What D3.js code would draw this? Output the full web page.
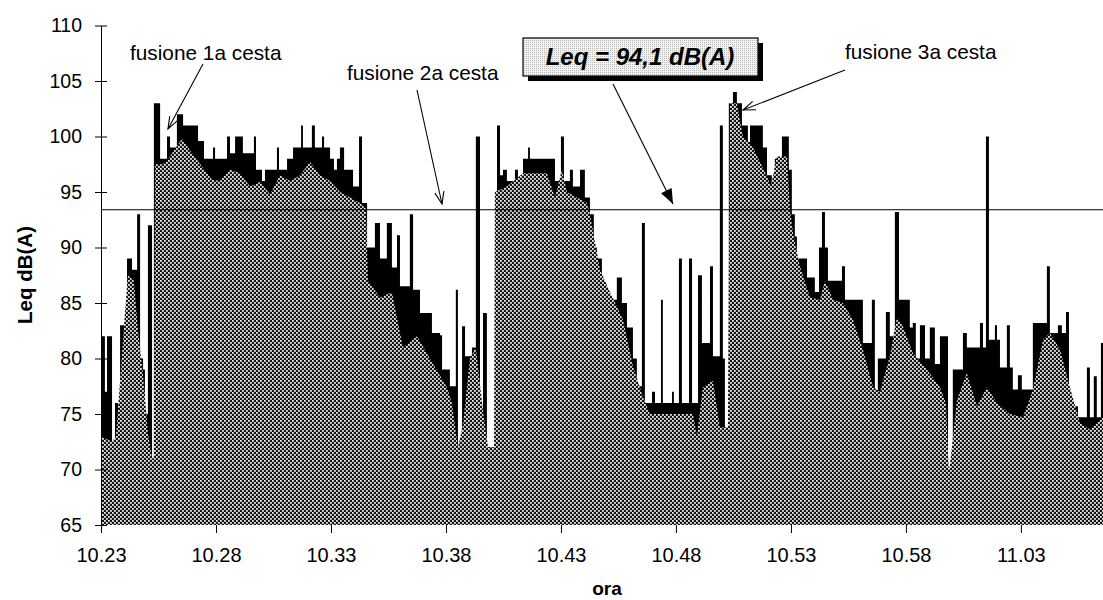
<!DOCTYPE html>
<html><head><meta charset="utf-8">
<script src="https://cdn.jsdelivr.net/npm/d3@7"></script>
<style>
body{margin:0;background:#fff;}
svg{display:block;font-family:"Liberation Sans",Arial,sans-serif;}
</style></head><body>
<svg id="chart" width="1103" height="600"></svg>
<script>
// x tick labels (clock time) and their positions in minutes after 10.23
const timeLabels = ["10.23","10.28","10.33","10.38","10.43","10.48","10.53","10.58","11.03"];
const tickMinutes = [0,5,10,15,20,25,30,35,40];
const yTicks = [65,70,75,80,85,90,95,100,105,110];

// upper (black) series: minutes after 10.23 and level dB(A)
const maxTime = [
 0,0.17,0.26,0.48,0.61,0.74,0.83,1.13,1.35,1.57,
 1.70,1.83,1.91,2.04,2.22,2.30,2.57,2.87,3.00,3.30,
 3.57,4.22,4.48,4.87,4.96,5.48,5.61,5.83,6.17,6.65,
 6.74,7.00,7.13,7.65,7.74,8.09,8.35,8.70,8.78,9.17,
 9.30,9.61,9.70,9.96,10.13,10.26,10.39,10.57,10.96,11.22,
 11.35,11.57,11.91,12.13,12.43,12.65,12.87,13.00,13.43,13.57,
 13.87,14.39,14.74,14.83,15.17,15.43,15.52,15.70,15.83,16.13,
 16.30,16.48,16.61,16.78,17.13,17.22,17.35,17.48,17.65,18.00,
 18.13,18.35,18.57,18.65,19.74,20.00,20.13,20.39,20.52,20.83,
 21.04,21.26,21.43,21.57,21.78,22.13,22.43,22.65,22.87,23.13,
 23.30,23.52,23.65,23.96,24.09,24.35,24.43,24.83,24.91,25.13,
 25.26,25.57,25.70,25.96,26.13,26.48,26.61,26.91,27.04,27.13,
 27.30,27.48,27.65,27.87,28.13,28.22,28.78,28.96,29.17,29.30,
 29.61,29.91,30.04,30.17,30.26,30.70,31.04,31.22,31.35,31.48,
 31.61,32.22,32.35,33.13,33.52,33.65,33.78,34.13,34.30,34.52,
 34.70,35.17,35.30,35.43,35.61,35.83,36.04,36.26,36.48,36.83,
 37.04,37.48,37.65,38.22,38.35,38.48,38.61,38.87,38.96,39.09,
 39.39,39.52,39.65,39.87,40.04,40.52,41.13,41.26,41.61,41.78,
 41.96,42.09,42.48,42.87,43.00,43.17,43.30,43.48,43.57
];
const maxLevel = [
 82,77,82,72,76,73,83,89,88,93,
 80,79,75,92,71,103,98,100,99,102,
 101,99.6,98,99,98,100,98.5,100,98.5,100,
 97,96,97,99,97,98,99,101,99,101,
 99,100,99,98,97,98,99,97,95.5,100,
 94,90,92.2,89,92.2,88.2,91.1,86.5,93,86.2,
 84.1,82.3,82.1,79,77.5,86.2,72,82.9,80.2,81,
 100,74,84.1,72,95,101,96.5,97,96,97,
 96,98,99,98,96,100,96,97,95.5,97,
 94.5,93,90,89,86,85.3,87.3,85,82.8,80,
 77.5,92.2,76,77,76,85.3,76,77,76,89,
 76,89,76,87.5,81.4,88.3,80.2,101,80,72.3,
 103,104,103,101,99.5,101,99,96.5,95.5,98,
 100,97,93,91,89,87.3,86,90,93.2,90,
 87,88.3,85.3,81.4,85.3,76.3,80,84.2,82,93.2,
 85.3,82.8,83.2,80,83,80,82.8,79.5,82,70,
 79,82.3,81,83.2,81,100,81.7,83,81.7,79.2,
 83,79.2,77.2,78.5,77.2,83.2,88.3,82.3,83,82.3,
 84.2,75.7,74.7,79.2,74.7,78.4,74.7,81.4,81.4
];

// lower (dithered grey) series
const avgTime = [
 0,0.48,0.65,0.83,1.00,1.17,1.43,1.61,1.83,2.04,
 2.22,2.30,2.35,2.65,2.87,3.09,3.52,3.96,4.39,4.83,
 5.17,5.61,6.04,6.48,6.91,7.35,7.78,8.22,8.65,9.09,
 9.52,9.96,10.39,10.83,11.26,11.52,11.61,12.13,12.65,13.13,
 13.74,14.30,15.04,15.26,15.52,15.74,16.04,16.30,16.57,16.83,
 17.09,17.13,17.65,18.35,19.39,19.74,20.04,20.26,21.13,21.26,
 21.70,22.13,22.70,23.13,23.57,23.87,25.74,25.91,26.17,26.61,
 26.91,27.26,27.35,27.65,27.91,28.35,28.96,29.13,29.39,29.83,
 29.96,30.09,30.39,30.83,31.26,31.48,31.83,32.26,32.70,33.13,
 33.57,33.87,34.30,34.61,34.87,35.30,35.91,36.48,36.74,36.87,
 37.00,37.22,37.65,38.09,38.52,38.96,39.52,40.09,40.52,40.96,
 41.26,41.70,42.13,42.57,43.00,43.57
];
const avgLevel = [
 73,72.5,73,78,83,87.5,87,82.5,78.5,73.3,
 71,71,97.5,97.5,97.8,98.5,99.8,98.5,97.3,96.1,
 96,97,96.7,95.5,95.9,94.8,96.5,96,96.5,97.7,
 96.5,96,95,94.5,94,93.5,87,85.5,86,81,
 82,80,77.4,76,72,74,80,81,76,72,
 72,95,95.5,96.7,96.7,94.5,97,95,94,93,
 88,86,83.5,79.3,76.5,75,75,73,77.4,78,
 73.8,73.8,103,103,100,99,96.4,95.5,98.2,98.2,
 93.4,91.3,88.3,85.5,85.3,87,85.3,85,83.5,80.8,
 77.4,77,80.2,83.7,82.9,80.5,79,77.4,76,69.7,
 72,76.3,78.7,75.7,77.4,76,75,74.7,77.2,81.7,
 82.3,80.8,77.4,74.2,73.6,74.7
];
const leqLine = 93.4;
const leqText = "Leq = 94,1 dB(A)";
const notes = ["fusione 1a cesta","fusione 2a cesta","fusione 3a cesta"];

if (maxTime.length !== maxLevel.length || avgTime.length !== avgLevel.length) {
  console.error("length mismatch", maxTime.length, maxLevel.length, avgTime.length, avgLevel.length);
}

const svg = d3.select("#chart");
const x = d3.scaleLinear().domain([0, 43.57]).range([101, 1103]);
const y = d3.scaleLinear().domain([65, 110]).range([525, 25.5]);

const defs = svg.append("defs");
const pat = defs.append("pattern").attr("id","dither").attr("patternUnits","userSpaceOnUse")
  .attr("width",4).attr("height",4);
pat.append("rect").attr("width",4).attr("height",4).attr("fill","#141414");
pat.append("rect").attr("x",0).attr("y",0).attr("width",1.8).attr("height",1.8).attr("fill","#ececec");
pat.append("rect").attr("x",2).attr("y",2).attr("width",1.8).attr("height",1.8).attr("fill","#ececec");
const pat2 = defs.append("pattern").attr("id","light").attr("patternUnits","userSpaceOnUse")
  .attr("width",2).attr("height",2);
pat2.append("rect").attr("width",2).attr("height",2).attr("fill","#f2f2f2");
pat2.append("rect").attr("width",1).attr("height",1).attr("fill","#b8b8b8");

const maxData = maxTime.map((t,i)=>({t, v:maxLevel[i]}));
const avgData = avgTime.map((t,i)=>({t, v:avgLevel[i]}));

svg.append("path").datum(maxData)
  .attr("d", d3.area().x(d=>x(d.t)).y0(y(65)).y1(d=>y(d.v)).curve(d3.curveStepAfter))
  .attr("fill","#000");
svg.append("path").datum(avgData)
  .attr("d", d3.area().x(d=>x(d.t)).y0(y(65)).y1(d=>y(d.v)))
  .attr("fill","url(#dither)");

// Leq reference line
svg.append("line").attr("x1",x(0)).attr("x2",x(43.57))
  .attr("y1",y(leqLine)).attr("y2",y(leqLine))
  .attr("stroke","#000").attr("stroke-width",1);

// axes
const yAxis = svg.append("g").attr("transform",`translate(${x(0)},0)`)
  .call(d3.axisLeft(y).tickValues(yTicks).tickSize(6).tickSizeOuter(0).tickPadding(13));
yAxis.selectAll(".tick line").attr("x1",6);
yAxis.selectAll("text").attr("font-size",19.5).attr("font-family","Liberation Sans, Arial, sans-serif").attr("fill","#000");
yAxis.select(".domain").attr("stroke","#000");

const xAxis = svg.append("g").attr("transform",`translate(0,${y(65)})`)
  .call(d3.axisBottom(x).tickValues(tickMinutes).tickFormat((d,i)=>timeLabels[i]).tickSize(8).tickSizeOuter(0).tickPadding(15));
xAxis.select(".domain").remove();
xAxis.selectAll("text").attr("font-size",20).attr("font-family","Liberation Sans, Arial, sans-serif").attr("fill","#000");

svg.append("text").attr("x",607).attr("y",595).attr("text-anchor","middle")
  .attr("font-weight","bold").attr("font-size",19).text("ora");
svg.append("text").attr("transform","translate(32,275) rotate(-90)").attr("text-anchor","middle")
  .attr("font-weight","bold").attr("font-size",20.5).text("Leq dB(A)");

// annotations
function arrow(x1,y1,x2,y2,filled){
  const a = Math.atan2(y2-y1,x2-x1);
  const L = filled ? 16 : 13, w = filled ? 0.38 : 0.36;
  const p1 = [x2 - L*Math.cos(a-w), y2 - L*Math.sin(a-w)];
  const p2 = [x2 - L*Math.cos(a+w), y2 - L*Math.sin(a+w)];
  svg.append("line").attr("x1",x1).attr("y1",y1).attr("x2",x2).attr("y2",y2)
    .attr("stroke","#000").attr("stroke-width",1.1);
  if (filled) {
    svg.append("path").attr("d",`M${x2},${y2}L${p1[0]},${p1[1]}L${p2[0]},${p2[1]}Z`).attr("fill","#000");
  } else {
    svg.append("path").attr("d",`M${p1[0]},${p1[1]}L${x2},${y2}L${p2[0]},${p2[1]}`)
      .attr("fill","none").attr("stroke","#000").attr("stroke-width",1.1);
  }
}
svg.append("text").attr("x",130).attr("y",60).attr("font-size",20.8).text(notes[0]);
arrow(203,64,168,129,false);
svg.append("text").attr("x",347).attr("y",80).attr("font-size",20.8).text(notes[1]);
arrow(417,90,442,204,false);
svg.append("text").attr("x",845).attr("y",59).attr("font-size",20.8).text(notes[2]);
arrow(845,70,743,110,false);

// Leq box
svg.append("rect").attr("x",528).attr("y",43).attr("width",235).attr("height",38).attr("fill","#000");
svg.append("rect").attr("x",523).attr("y",38).attr("width",235).attr("height",38)
  .attr("fill","url(#light)").attr("stroke","#000").attr("stroke-width",1.2);
svg.append("text").attr("x",640).attr("y",65).attr("text-anchor","middle")
  .attr("font-weight","bold").attr("font-style","italic").attr("font-size",24).text(leqText);
arrow(613,84,673,204,true);
</script>
</body></html>
